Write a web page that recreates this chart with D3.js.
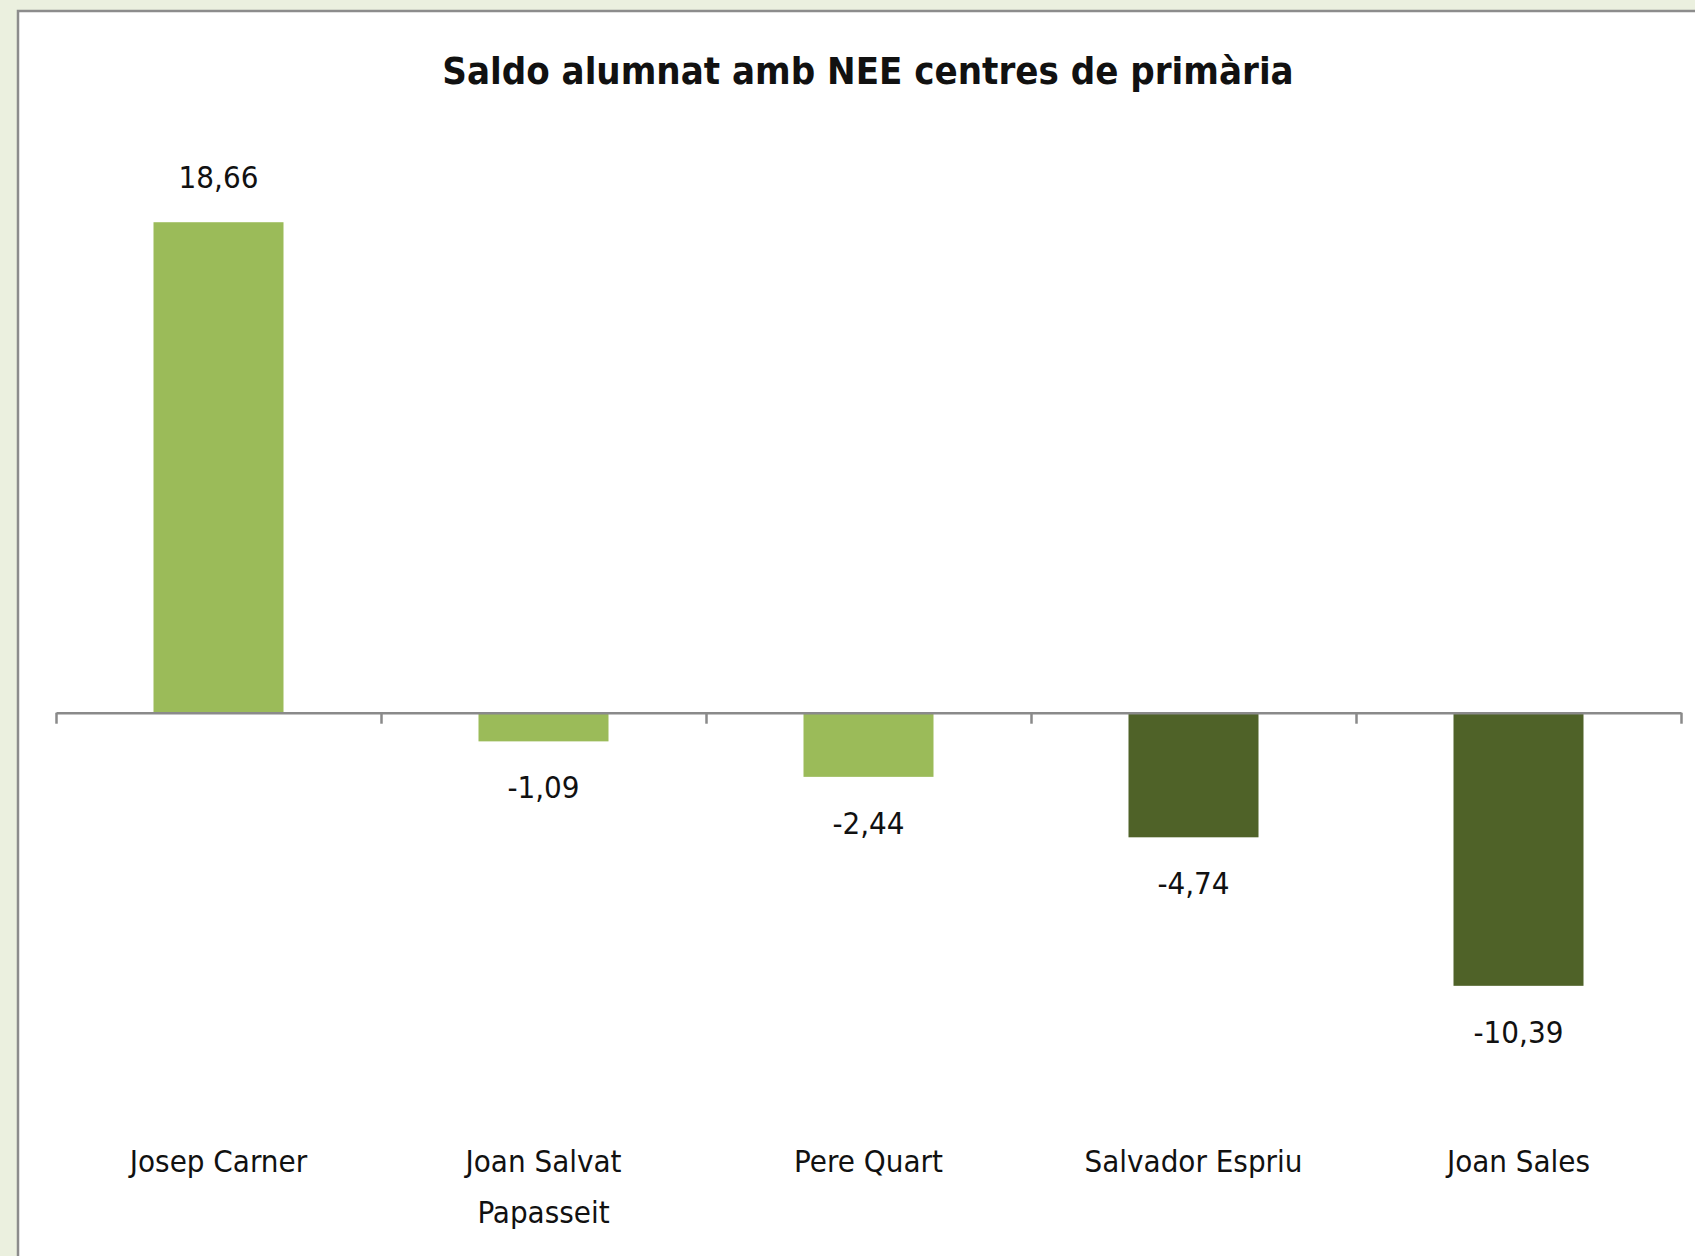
<!DOCTYPE html>
<html>
<head>
<meta charset="utf-8">
<script src="https://cdn.jsdelivr.net/npm/d3@7"></script>
<style>
  body { margin: 0; background: #ebf0df; }
  svg { display: block; }
</style>
</head>
<body>
<div id="chart"></div>
<script>
const title = "Saldo alumnat amb NEE centres de primària";
const centres = ["Josep Carner", "Joan Salvat Papasseit", "Pere Quart", "Salvador Espriu", "Joan Sales"];
const labelLines = [["Josep Carner"], ["Joan Salvat", "Papasseit"], ["Pere Quart"], ["Salvador Espriu"], ["Joan Sales"]];
const saldo = [18.66, -1.09, -2.44, -4.74, -10.39];
const highlight = [false, false, false, true, true];

const W = 1695, H = 1256;
const font = "'Liberation Sans Narrow','DejaVu Sans Condensed','Liberation Sans',sans-serif";

const loc = d3.formatLocale({decimal: ",", thousands: ".", grouping: [3], currency: ["", "€"], minus: "-"});
const fmt = loc.format(".2f");

const svg = d3.select("#chart").append("svg")
    .attr("width", W)
    .attr("height", H);

// chart frame
svg.append("rect")
    .attr("x", 18).attr("y", 11)
    .attr("width", W).attr("height", H)
    .attr("fill", "#fff")
    .attr("stroke", "#8c8c8c")
    .attr("stroke-width", 2.5);

svg.append("text")
    .attr("x", 868).attr("y", 84)
    .attr("text-anchor", "middle")
    .style("font-family", font)
    .style("font-weight", "bold")
    .style("font-size", "38px")
    .attr("fill", "#111")
    .text(title);

const x = d3.scaleBand()
    .domain(centres)
    .range([56, 1681])
    .paddingInner(0.6)
    .paddingOuter(0.3);

const y = d3.scaleLinear()
    .domain([-15, 20])
    .range([1107, 187]);

const data = centres.map((c, i) => ({c: c, v: saldo[i], hl: highlight[i], lines: labelLines[i]}));

svg.selectAll(".bar")
    .data(data)
    .enter()
    .append("rect")
    .attr("class", "bar")
    .attr("x", d => x(d.c))
    .attr("width", x.bandwidth())
    .attr("y", d => y(Math.max(0, d.v)))
    .attr("height", d => Math.abs(y(d.v) - y(0)))
    .attr("fill", d => d.hl ? "#4f6228" : "#9bbb59");

// category axis with ticks between categories
const edges = d3.scaleLinear().domain([0, centres.length]).range([56, 1681]);
const ax = svg.append("g")
    .attr("transform", "translate(0," + y(0) + ")")
    .call(d3.axisBottom(edges).ticks(centres.length).tickSize(11).tickSizeOuter(0).tickFormat(""));
ax.select(".domain").attr("stroke", "#8a8a8a").attr("stroke-width", 2.5);
ax.selectAll(".tick line").attr("stroke", "#8a8a8a").attr("stroke-width", 2.5);

// value labels
svg.selectAll(".val")
    .data(data)
    .enter()
    .append("text")
    .attr("class", "val")
    .attr("x", d => x(d.c) + x.bandwidth() / 2)
    .attr("y", d => d.v >= 0 ? y(d.v) - 34 : y(d.v) + 57)
    .attr("text-anchor", "middle")
    .style("font-family", font)
    .style("font-size", "31px")
    .attr("fill", "#111")
    .text(d => fmt(d.v));

// category labels
const cl = svg.selectAll(".cat")
    .data(data)
    .enter()
    .append("text")
    .attr("class", "cat")
    .attr("x", d => x(d.c) + x.bandwidth() / 2)
    .attr("y", 1172)
    .attr("text-anchor", "middle")
    .style("font-family", font)
    .style("font-size", "31px")
    .attr("fill", "#111");
cl.selectAll("tspan")
    .data(d => d.lines.map(t => ({t: t, x: x(d.c) + x.bandwidth() / 2})))
    .enter()
    .append("tspan")
    .attr("x", d => d.x)
    .attr("dy", (d, i) => i ? 51 : 0)
    .text(d => d.t);
</script>
</body>
</html>
